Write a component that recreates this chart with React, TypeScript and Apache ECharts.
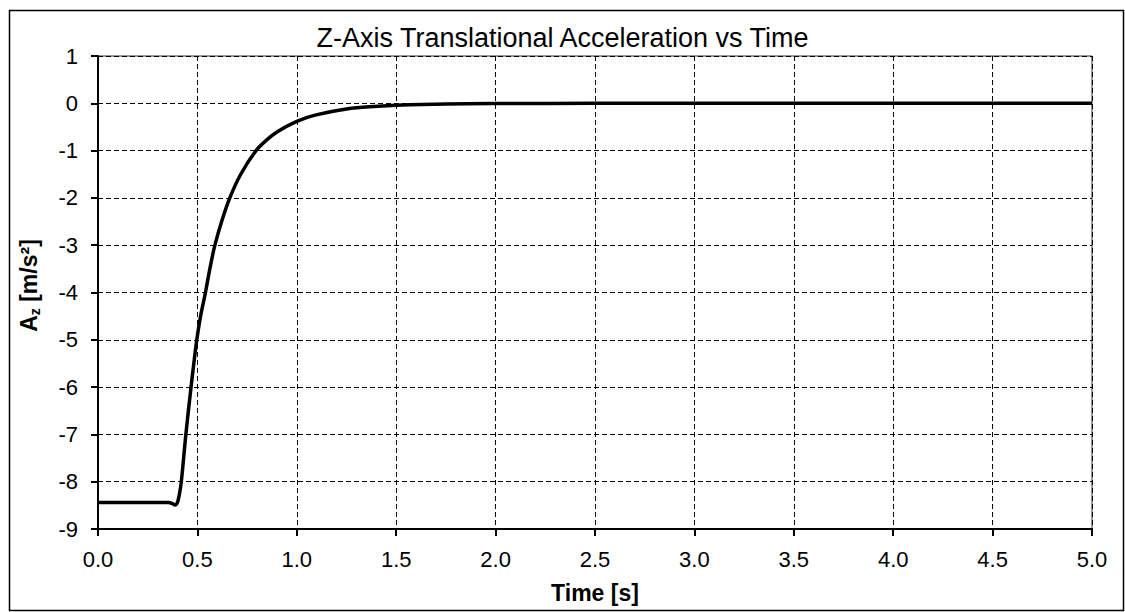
import React, { useEffect, useRef } from "react";
import * as echarts from "echarts";

const timeValues = [
  0, 0.1, 0.2, 0.3, 0.355, 0.372, 0.388, 0.4, 0.41, 0.419, 0.442, 0.468, 0.482,
  0.497, 0.516, 0.5405, 0.5626, 0.588, 0.622, 0.663, 0.718, 0.795, 0.842, 0.902,
  1.0, 1.092, 1.25, 1.41, 1.5, 1.75, 2.0, 2.5, 3.0, 3.5, 4.0, 4.5, 5.0,
];
const accelValues = [
  -8.44, -8.44, -8.44, -8.44, -8.44, -8.46, -8.49, -8.43, -8.25, -8.0, -7.0,
  -6.0, -5.5, -5.0, -4.5, -4.0, -3.5, -3.0, -2.5, -2.0, -1.5, -1.0, -0.8, -0.6,
  -0.38, -0.25, -0.12, -0.06, -0.04, -0.013, -0.004, -0.001, 0, 0, 0, 0, 0,
];

const titleText = "Z-Axis Translational Acceleration vs Time";
const xAxisName = "Time [s]";

const FONT = "'Liberation Sans', Arial, sans-serif";

export default function App() {
  const ref = useRef<HTMLDivElement>(null);

  useEffect(() => {
    if (!ref.current) return;
    const chart = echarts.init(ref.current, null, { renderer: "svg" });
    const data = timeValues.map((t, i) => [t, accelValues[i]]);
    chart.setOption({
      animation: false,
      backgroundColor: "#fff",
      title: {
        text: titleText,
        left: "center",
        top: 19,
        textStyle: {
          fontFamily: FONT,
          fontSize: 27,
          fontWeight: "normal",
          color: "#000",
        },
      },
      graphic: [
        {
          type: "rect",
          shape: { x: 9.5, y: 10.5, width: 1114, height: 600 },
          style: { fill: "none", stroke: "#000", lineWidth: 1.5 },
          silent: true,
        },
      ],
      grid: {
        left: 98,
        right: 33,
        top: 56,
        bottom: 83,
        show: true,
        borderColor: "#333",
        borderWidth: 1,
      },
      xAxis: {
        type: "value",
        min: 0,
        max: 5,
        interval: 0.5,
        name: xAxisName,
        nameLocation: "middle",
        nameGap: 52,
        nameTextStyle: {
          fontFamily: FONT,
          fontSize: 23,
          fontWeight: "bold",
          color: "#000",
        },
        axisLine: { onZero: false, lineStyle: { color: "#000", width: 2 } },
        axisTick: { show: true, length: 7, lineStyle: { color: "#000", width: 2 } },
        axisLabel: {
          fontFamily: FONT,
          fontSize: 22,
          color: "#000",
          margin: 19,
          formatter: (v: number) => v.toFixed(1),
        },
        splitLine: {
          show: true,
          lineStyle: { color: "#000", width: 1, type: [5, 3] },
        },
      },
      yAxis: {
        type: "value",
        min: -9,
        max: 1,
        interval: 1,
        name: "{a|A}{s|z}{a| [m/s²]}",
        nameLocation: "middle",
        nameRotate: 90,
        nameGap: 56,
        nameTextStyle: {
          padding: [0, 0, 0, 14],
          rich: {
            a: {
              fontFamily: FONT,
              fontSize: 23,
              fontWeight: "bold",
              color: "#000",
            },
            s: {
              fontFamily: FONT,
              fontSize: 14,
              fontWeight: "bold",
              color: "#000",
              padding: [12, 0, 0, 0],
            },
          },
        },
        axisLine: { onZero: false, lineStyle: { color: "#000", width: 2 } },
        axisTick: { show: true, length: 7, lineStyle: { color: "#000", width: 2 } },
        axisLabel: {
          fontFamily: FONT,
          fontSize: 22,
          color: "#000",
          margin: 20,
        },
        splitLine: {
          show: true,
          lineStyle: { color: "#000", width: 1, type: [5, 3] },
        },
      },
      series: [
        {
          type: "line",
          data,
          showSymbol: false,
          smooth: 0.4,
          lineStyle: { color: "#000", width: 3.5 },
          itemStyle: { color: "#000" },
        },
      ],
    });
    return () => chart.dispose();
  }, []);

  return (
    <div
      ref={ref}
      style={{ position: "fixed", left: 0, top: 0, width: 1125, height: 612 }}
    />
  );
}
